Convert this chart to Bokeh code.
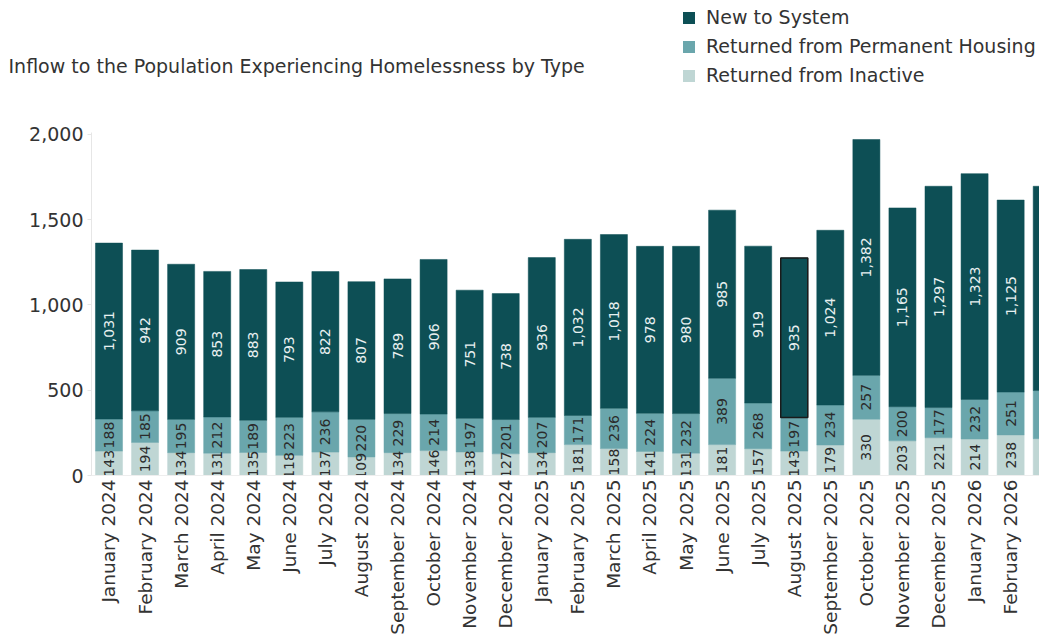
import math
from bokeh.plotting import figure
from bokeh.layouts import column
from bokeh.models import (ColumnDataSource, Range1d, FixedTicker, NumeralTickFormatter,
                          Legend, LegendItem, Label)
from bokeh.core.properties import value
from bokeh.embed import file_html
from bokeh.resources import INLINE

months = ["January 2024", "February 2024", "March 2024", "April 2024", "May 2024", "June 2024",
          "July 2024", "August 2024", "September 2024", "October 2024", "November 2024",
          "December 2024", "January 2025", "February 2025", "March 2025", "April 2025", "May 2025",
          "June 2025", "July 2025", "August 2025", "September 2025", "October 2025",
          "November 2025", "December 2025", "January 2026", "February 2026", "March 2026"]
returned_inactive = [143, 194, 134, 131, 135, 118, 137, 109, 134, 146, 138, 127, 134, 181, 158,
                     141, 131, 181, 157, 143, 179, 330, 203, 221, 214, 238, 216]
returned_ph = [188, 185, 195, 212, 189, 223, 236, 220, 229, 214, 197, 201, 207, 171, 236, 224,
               232, 389, 268, 197, 234, 257, 200, 177, 232, 251, 282]
new_to_system = [1031, 942, 909, 853, 883, 793, 822, 807, 789, 906, 751, 738, 936, 1032, 1018,
                 978, 980, 985, 919, 935, 1024, 1382, 1165, 1297, 1323, 1125, 1197]
series_names = ["Returned from Inactive", "Returned from Permanent Housing", "New to System"]
y_ticks = [0, 500, 1000, 1500, 2000]
highlight_month = "August 2025"
# the last month is only a sliver at the right edge of the view: no labels shown for it
labelled_count = len(months) - 1
title_text = "Inflow to the Population Experiencing Homelessness by Type"

colors = ["#bfd6d4", "#6aa6ac", "#0d4f55"]
FONT = "DejaVu Sans"
TXT = "#333333"
W = 1039
HEADER_H = 120

# ---------- header: title + legend ----------
hdr = figure(width=W, height=HEADER_H, x_range=Range1d(0, W), y_range=Range1d(0, HEADER_H),
             output_backend="svg", toolbar_location=None, x_axis_type=None, y_axis_type=None,
             min_border=0)
hdr.frame_align = False
hdr.outline_line_color = None
hdr.xgrid.visible = False
hdr.ygrid.visible = False
# zero-size swatch renderers that only supply the legend colours
swatches = [hdr.vbar(x=[0], bottom=[0], top=[0], width=0, fill_color=c, line_alpha=0)
            for c in colors]
legend = Legend(items=[LegendItem(label=series_names[2], renderers=[swatches[2]]),
                       LegendItem(label=series_names[1], renderers=[swatches[1]]),
                       LegendItem(label=series_names[0], renderers=[swatches[0]])],
                location=(681, 34), orientation="vertical",
                background_fill_alpha=0, border_line_alpha=0, padding=0, margin=0,
                spacing=7, glyph_width=15, glyph_height=15, label_standoff=10,
                label_text_font=FONT, label_text_font_size="19px", label_text_color=TXT)
hdr.add_layout(legend)
hdr.add_layout(Label(x=8, y=55, text=title_text, text_font=FONT, text_font_size="19px",
                     text_color=TXT, text_baseline="middle"))

# ---------- main chart ----------
idx = list(range(len(months)))
src = ColumnDataSource(dict(x=idx, month=months, inactive=returned_inactive,
                            ph=returned_ph, new=new_to_system))

p = figure(width=W, height=640 - HEADER_H, x_range=Range1d(-0.485, 25.8),
           y_range=Range1d(0, 2010), output_backend="svg", toolbar_location=None,
           min_border_left=91, min_border_right=0, min_border_top=12, min_border_bottom=165)
p.frame_align = False
p.outline_line_color = None
p.xgrid.visible = False
p.ygrid.visible = False

rs = p.vbar_stack(["inactive", "ph", "new"], x="x", width=0.75, source=src,
                  fill_color=colors, line_color=colors, line_width=0.5)

h = months.index(highlight_month)
hsrc = ColumnDataSource(dict(x=[idx[h]],
                             bottom=[returned_inactive[h] + returned_ph[h]],
                             top=[returned_inactive[h] + returned_ph[h] + new_to_system[h]]))
p.vbar(x="x", bottom="bottom", top="top", width=0.75, source=hsrc,
       fill_alpha=0, line_color="#1a1a1a", line_width=1.5)

lab = {False: dict(x=[], y=[], t=[]), True: dict(x=[], y=[], t=[])}
for i in idx[:labelled_count]:
    b0 = 0
    for vals, dark in ((returned_inactive, False), (returned_ph, False), (new_to_system, True)):
        v = vals[i]
        lab[dark]["x"].append(i)
        lab[dark]["y"].append(b0 + v / 2)
        lab[dark]["t"].append(f"{v:,}")
        b0 += v

p.text(x="x", y="y", text="t", source=ColumnDataSource(lab[False]), angle=math.pi / 2,
       text_align="center", text_baseline="middle", text_font=value(FONT),
       text_font_size="14px", text_color="#2b2b2b")
p.text(x="x", y="y", text="t", source=ColumnDataSource(lab[True]), angle=math.pi / 2,
       text_align="center", text_baseline="middle", text_font=value(FONT),
       text_font_size="14px", text_color="#e8f0f0")

p.yaxis.ticker = FixedTicker(ticks=y_ticks)
p.yaxis.formatter = NumeralTickFormatter(format="0,0")
p.yaxis.major_label_text_font = FONT
p.yaxis.major_label_text_font_size = "19px"
p.yaxis.major_label_text_color = TXT
p.yaxis.axis_line_color = "#e6e6e6"
p.yaxis.major_tick_line_color = "#e6e6e6"
p.yaxis.major_tick_in = 0
p.yaxis.major_tick_out = 4
p.yaxis.minor_tick_line_color = None
p.yaxis.major_label_standoff = 4

p.xaxis.ticker = FixedTicker(ticks=idx[:labelled_count])
p.xaxis.major_label_overrides = {i: m for i, m in zip(idx, months)}
p.xaxis.major_label_orientation = math.pi / 2
p.xaxis.major_label_text_font = FONT
p.xaxis.major_label_text_font_size = "18.5px"
p.xaxis.major_label_text_color = TXT
p.xaxis.axis_line_color = "#eeeeee"
p.xaxis.major_tick_line_color = None
p.xaxis.major_tick_in = 0
p.xaxis.major_tick_out = 0
p.xaxis.minor_tick_line_color = None
p.xaxis.major_label_standoff = 4

layout = column(hdr, p, spacing=0)
open("out.html", "w").write(file_html(layout, INLINE))
